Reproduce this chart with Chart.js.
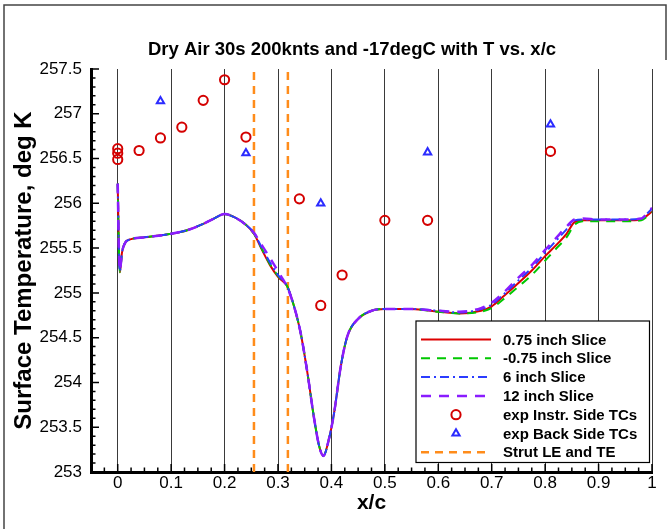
<!DOCTYPE html>
<html>
<head>
<meta charset="utf-8">
<script src="https://cdn.jsdelivr.net/npm/chart.js@4.4.1/dist/chart.umd.min.js"></script>
<style>
  body { margin: 0; background: #fff; }
  #wrap { width: 672px; height: 529px; }
</style>
</head>
<body>
<div id="wrap"><canvas id="tempChart" width="672" height="529"></canvas></div>
<script>
// x/c stations shared by the four CFD slices
const xc = [0, 0.002, 0.004, 0.008, 0.014, 0.025, 0.05, 0.1, 0.13, 0.16, 0.18, 0.2, 0.22, 0.24, 0.255, 0.27, 0.285, 0.3, 0.3175, 0.33,
  0.3425, 0.355, 0.367, 0.377, 0.385, 0.395, 0.405, 0.4175, 0.43, 0.45, 0.475, 0.5, 0.55, 0.6, 0.64, 0.68, 0.7, 0.72, 0.75, 0.775,
  0.8, 0.82, 0.84, 0.855, 0.87, 0.9, 0.95, 0.98, 0.99, 1.0];

const slice075 = [256.22, 255.55, 255.23, 255.45, 255.56, 255.60, 255.62, 255.66, 255.70, 255.77, 255.83, 255.88, 255.84, 255.76, 255.66, 255.48, 255.31, 255.18, 255.07, 254.85,
  254.55, 254.11, 253.62, 253.29, 253.18, 253.36, 253.66, 254.18, 254.52, 254.71, 254.80, 254.82, 254.82, 254.79, 254.77, 254.80, 254.85, 254.95, 255.11, 255.25,
  255.41, 255.53, 255.66, 255.79, 255.81, 255.81, 255.81, 255.82, 255.86, 255.91];
const sliceNeg075 = [256.22, 255.55, 255.23, 255.45, 255.56, 255.60, 255.62, 255.66, 255.70, 255.77, 255.83, 255.88, 255.84, 255.76, 255.66, 255.49, 255.32, 255.19, 255.07, 254.85,
  254.55, 254.11, 253.62, 253.29, 253.18, 253.36, 253.66, 254.18, 254.52, 254.71, 254.80, 254.82, 254.82, 254.79, 254.77, 254.79, 254.83, 254.92, 255.07, 255.20,
  255.36, 255.49, 255.62, 255.76, 255.80, 255.80, 255.80, 255.81, 255.85, 255.90];
const slice6 = [256.22, 255.55, 255.24, 255.45, 255.56, 255.60, 255.62, 255.66, 255.70, 255.77, 255.83, 255.88, 255.84, 255.76, 255.67, 255.50, 255.34, 255.20, 255.07, 254.85,
  254.55, 254.11, 253.62, 253.29, 253.18, 253.36, 253.66, 254.18, 254.52, 254.71, 254.80, 254.82, 254.82, 254.80, 254.78, 254.82, 254.87, 254.97, 255.14, 255.28,
  255.45, 255.58, 255.71, 255.81, 255.82, 255.82, 255.82, 255.83, 255.88, 255.94];
const slice12 = [256.22, 255.55, 255.25, 255.45, 255.56, 255.60, 255.62, 255.66, 255.70, 255.77, 255.83, 255.88, 255.84, 255.76, 255.67, 255.53, 255.39, 255.24, 255.06, 254.85,
  254.55, 254.11, 253.62, 253.29, 253.18, 253.36, 253.66, 254.18, 254.52, 254.71, 254.80, 254.82, 254.82, 254.80, 254.79, 254.83, 254.89, 254.99, 255.17, 255.31,
  255.48, 255.61, 255.74, 255.82, 255.83, 255.82, 255.82, 255.83, 255.88, 255.95];

// thermocouple readings
const instrX = [0, 0, 0, 0.04, 0.08, 0.12, 0.16, 0.2, 0.24, 0.34, 0.38, 0.42, 0.5, 0.58, 0.81];
const instrT = [256.61, 256.56, 256.49, 256.59, 256.73, 256.85, 257.15, 257.38, 256.74, 256.05, 254.86, 255.20, 255.81, 255.81, 256.58];
const backX = [0.08, 0.24, 0.38, 0.58, 0.81];
const backT = [257.14, 256.56, 256.00, 256.57, 256.88];

// strut leading and trailing edge
const strutX = [0.255, 0.3185];

const xTicks = [0, 0.1, 0.2, 0.3, 0.4, 0.5, 0.6, 0.7, 0.8, 0.9, 1];
const yTicks = [253, 253.5, 254, 254.5, 255, 255.5, 256, 256.5, 257, 257.5];
const X_MIN = -0.05, X_MAX = 1, Y_MIN = 253, Y_MAX = 257.5;

const FONT = '"Liberation Sans", Arial, Helvetica, sans-serif';

const pts = (xs, ys) => xs.map((x, i) => ({ x: x, y: ys[i] }));

const strutData = [];
strutX.forEach((x, i) => {
  if (i > 0) strutData.push({ x: (x + strutX[i - 1]) / 2, y: null });
  strutData.push({ x: x, y: Y_MIN }, { x: x, y: Y_MAX });
});

const lineStyle = (label, ys, color, dash, width, order) => ({
  label: label,
  data: pts(xc, ys),
  showLine: true,
  borderColor: color,
  borderWidth: width,
  borderDash: dash,
  pointRadius: 0,
  cubicInterpolationMode: 'monotone',
  order: order,
});

const datasets = [
  lineStyle('0.75 inch Slice', slice075, '#dd0000', [], 2, 4),
  lineStyle('-0.75 inch Slice', sliceNeg075, '#00c800', [9, 7], 2, 3),
  lineStyle('6 inch Slice', slice6, '#2b3cff', [9, 4, 2, 4], 2, 2),
  lineStyle('12 inch Slice', slice12, '#8a1cff', [10, 8], 2.5, 1),
  {
    label: 'exp Instr. Side TCs',
    data: pts(instrX, instrT),
    pointStyle: 'circle',
    pointRadius: 4.6,
    pointBorderWidth: 2,
    pointBorderColor: '#d40000',
    pointBackgroundColor: 'rgba(0,0,0,0)',
    order: 0,
  },
  {
    label: 'exp Back Side TCs',
    data: pts(backX, backT),
    pointStyle: 'triangle',
    pointRadius: 4.2,
    pointBorderWidth: 2,
    pointBorderColor: '#2b2bff',
    pointBackgroundColor: 'rgba(0,0,0,0)',
    order: 0,
  },
  {
    label: 'Strut LE and TE',
    data: strutData,
    showLine: true,
    spanGaps: false,
    borderColor: '#ff8c1a',
    borderWidth: 2.5,
    borderDash: [8, 6],
    pointRadius: 0,
    order: 5,
  },
];

// thin frame around the figure
const framePlugin = {
  id: 'frame',
  beforeDraw(chart) {
    const ctx = chart.ctx;
    ctx.save();
    ctx.strokeStyle = '#444';
    ctx.lineWidth = 1.5;
    ctx.beginPath();
    ctx.moveTo(4, chart.height);
    ctx.lineTo(4, 5);
    ctx.lineTo(666, 5);
    ctx.lineTo(666, 60);
    ctx.stroke();
    ctx.restore();
  },
};

const titlePlugin = {
  id: 'plotTitle',
  afterDraw(chart) {
    const ctx = chart.ctx;
    ctx.save();
    ctx.font = 'bold 18.5px ' + FONT;
    ctx.fillStyle = '#000';
    ctx.textAlign = 'center';
    ctx.textBaseline = 'alphabetic';
    ctx.fillText('Dry Air 30s 200knts and -17degC with T vs. x/c', 352, 55);
    ctx.restore();
  },
};

// tick marks pointing into the plot, Tecplot style
const inwardTicks = {
  id: 'inwardTicks',
  afterDatasetsDraw(chart) {
    const { ctx, chartArea: a, scales } = chart;
    ctx.save();
    ctx.strokeStyle = '#000';
    ctx.lineWidth = 1.5;
    ctx.beginPath();
    for (let i = -2; i <= 40; i++) {
      const px = scales.x.getPixelForValue(i * 0.025);
      const len = i % 4 === 0 ? 8 : 4.5;
      ctx.moveTo(px, a.bottom);
      ctx.lineTo(px, a.bottom - len);
    }
    for (let i = 0; i <= 45; i++) {
      const py = scales.y.getPixelForValue(Y_MIN + i * 0.1);
      const len = i % 5 === 0 ? 8 : 4.5;
      ctx.moveTo(a.left, py);
      ctx.lineTo(a.left + len, py);
    }
    ctx.stroke();
    ctx.restore();
  },
};

// boxed legend in the lower right corner of the plot
const legendBox = {
  id: 'legendBox',
  afterDraw(chart) {
    const { ctx, chartArea: a } = chart;
    const right = a.right - 2.5, bottom = a.bottom - 9.5;
    const left = right - 233.5, top = bottom - 141.5;
    ctx.save();
    ctx.fillStyle = '#fff';
    ctx.fillRect(left, top, right - left, bottom - top);
    ctx.strokeStyle = '#000';
    ctx.lineWidth = 1.2;
    ctx.strokeRect(left, top, right - left, bottom - top);
    ctx.font = 'bold 15px ' + FONT;
    ctx.textBaseline = 'middle';
    ctx.textAlign = 'left';
    chart.data.datasets.forEach((ds, i) => {
      const y = top + 18.5 + i * 18.8;
      const x0 = left + 5, x1 = left + 75, xm = (x0 + x1) / 2;
      if (ds.showLine) {
        ctx.strokeStyle = ds.borderColor;
        ctx.lineWidth = ds.borderWidth;
        ctx.setLineDash(ds.borderDash || []);
        ctx.beginPath();
        ctx.moveTo(x0, y);
        ctx.lineTo(x1, y);
        ctx.stroke();
        ctx.setLineDash([]);
      } else {
        ctx.strokeStyle = ds.pointBorderColor;
        ctx.lineWidth = ds.pointBorderWidth;
        const r = ds.pointRadius;
        ctx.beginPath();
        if (ds.pointStyle === 'triangle') {
          const h = r * 1.5;
          ctx.moveTo(xm, y - r);
          ctx.lineTo(xm + r * Math.sqrt(3) / 2, y + r / 2);
          ctx.lineTo(xm - r * Math.sqrt(3) / 2, y + r / 2);
          ctx.closePath();
        } else {
          ctx.arc(xm, y, r, 0, Math.PI * 2);
        }
        ctx.stroke();
      }
      ctx.fillStyle = '#000';
      ctx.fillText(ds.label, left + 87, y + 1);
    });
    ctx.restore();
  },
};

const ctx = document.getElementById('tempChart').getContext('2d');
new Chart(ctx, {
  type: 'scatter',
  data: { datasets: datasets },
  options: {
    responsive: false,
    animation: false,
    layout: { padding: { top: 69, right: 20, bottom: 0, left: 0 } },
    plugins: {
      legend: { display: false },
      title: { display: false },
      tooltip: { enabled: false },
    },
    scales: {
      x: {
        type: 'linear',
        min: X_MIN,
        max: X_MAX,
        afterBuildTicks: (s) => { s.ticks = xTicks.map((v) => ({ value: v })); },
        afterFit: (s) => { s.height = 57; },
        ticks: {
          padding: 1,
          color: '#000',
          autoSkip: false,
          maxRotation: 0,
          font: { family: FONT, size: 17, lineHeight: 1.2 },
          callback: (v) => String(Math.round(v * 10) / 10),
        },
        grid: { color: '#3a3a3a', lineWidth: 1, drawTicks: false },
        border: { display: true, color: '#000', width: 3 },
        title: {
          display: true,
          text: 'x/c',
          color: '#000',
          font: { family: FONT, size: 21, weight: 'bold', lineHeight: 1.2 },
          padding: { top: 0, bottom: 13 },
        },
      },
      y: {
        type: 'linear',
        min: Y_MIN,
        max: Y_MAX,
        afterBuildTicks: (s) => { s.ticks = yTicks.map((v) => ({ value: v })); },
        afterFit: (s) => { s.width = 91; },
        ticks: {
          padding: 9,
          color: '#000',
          autoSkip: false,
          font: { family: FONT, size: 17, lineHeight: 1.2 },
          callback: (v) => String(v),
        },
        grid: { display: false, drawTicks: false },
        border: { display: true, color: '#000', width: 3 },
        title: {
          display: true,
          text: 'Surface Temperature, deg K',
          color: '#000',
          font: { family: FONT, size: 24, weight: 'bold', lineHeight: 1.2 },
          padding: { top: 10, bottom: 0 },
        },
      },
    },
  },
  plugins: [framePlugin, inwardTicks, legendBox, titlePlugin],
});
</script>
</body>
</html>
